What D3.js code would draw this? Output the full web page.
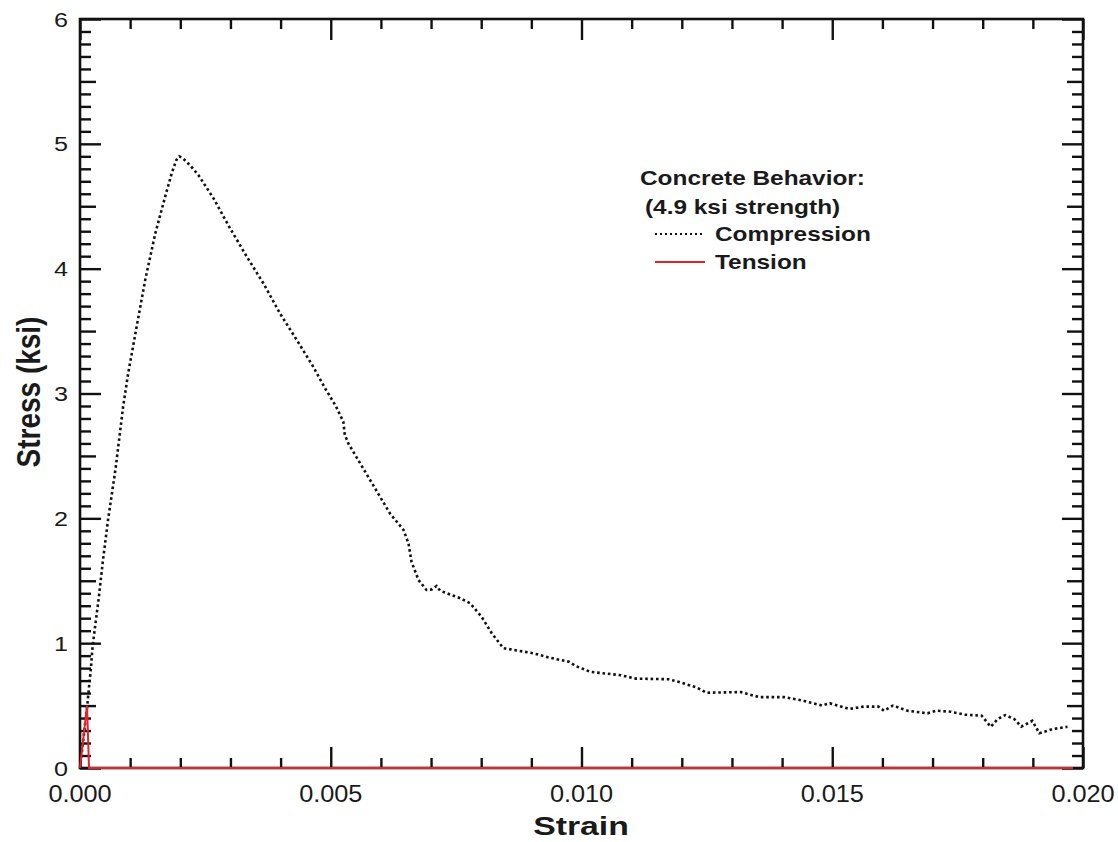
<!DOCTYPE html>
<html>
<head>
<meta charset="utf-8">
<script src="https://cdn.jsdelivr.net/npm/d3@7"></script>
<style>
  html, body { margin: 0; padding: 0; background: #fff; }
  svg { display: block; font-family: "Liberation Sans", Arial, sans-serif; }
</style>
</head>
<body>
<svg id="chart" width="1118" height="842"></svg>
<script>
// ---------------- DATA ----------------
const compStrain = [0, 0.00015, 0.00018, 0.00022, 0.00025, 0.0003, 0.00037, 0.00046, 0.00056, 0.00071,
  0.00086, 0.00096, 0.00113, 0.0013, 0.0015, 0.0017, 0.00183, 0.00192, 0.00198,
  0.00205, 0.00219, 0.00236, 0.00266, 0.00299, 0.00332, 0.00366, 0.00399, 0.00432, 0.00465,
  0.00489, 0.0051, 0.00525, 0.00528, 0.00535, 0.00578, 0.00618, 0.00645, 0.00655, 0.00661,
  0.00675, 0.00691, 0.00701, 0.00711, 0.00718, 0.00758, 0.00778, 0.00801, 0.00821, 0.00844,
  0.00904, 0.00935, 0.00975, 0.00989, 0.01018, 0.01079, 0.01108, 0.01173, 0.01195, 0.01231,
  0.01249, 0.01318, 0.01354, 0.01404, 0.0144, 0.0148, 0.01495, 0.01534, 0.01563, 0.01592,
  0.01603, 0.01621, 0.0165, 0.0169, 0.01708, 0.01736, 0.01765, 0.01798, 0.01816, 0.0183,
  0.01845, 0.01863, 0.01877, 0.01899, 0.01913, 0.01939, 0.01969];
const compStress = [0, 0.52, 0.65, 0.81, 0.97, 1.13, 1.35, 1.67, 1.99, 2.40,
  2.895, 3.16, 3.536, 3.91, 4.28, 4.58, 4.765, 4.87, 4.9,
  4.885, 4.83, 4.75, 4.565, 4.325, 4.10, 3.88, 3.64, 3.43, 3.215,
  3.04, 2.90, 2.775, 2.67, 2.60, 2.31, 2.04, 1.907, 1.80, 1.653,
  1.506, 1.426, 1.43, 1.458, 1.42, 1.36, 1.32, 1.21, 1.08, 0.96,
  0.919, 0.885, 0.851, 0.816, 0.770, 0.743, 0.716, 0.711, 0.689, 0.643,
  0.603, 0.608, 0.568, 0.568, 0.541, 0.50, 0.519, 0.473, 0.492, 0.492,
  0.459, 0.50, 0.459, 0.438, 0.459, 0.451, 0.427, 0.419, 0.33, 0.392,
  0.424, 0.392, 0.332, 0.378, 0.278, 0.311, 0.33];

const tensStrain = [0, 0.00014, 0.00018, 0.0198];
const tensStress = [0, 0.5, 0, 0];

const xTickValues = [0, 0.005, 0.010, 0.015, 0.020];
const xTickLabels = ["0.000", "0.005", "0.010", "0.015", "0.020"];
const yTickValues = [0, 1, 2, 3, 4, 5, 6];
const yTickLabels = ["0", "1", "2", "3", "4", "5", "6"];

const legendTitle = ["Concrete Behavior:", "(4.9 ksi strength)"];
const seriesNames = ["Compression", "Tension"];
const xTitle = "Strain";
const yTitle = "Stress (ksi)";

// ---------------- CHART ----------------
const svg = d3.select("#chart");
const X0 = 80, X1 = 1083, Y0 = 19, Y1 = 768;
const x = d3.scaleLinear().domain([0, 0.02]).range([X0, X1]);
const y = d3.scaleLinear().domain([0, 6]).range([Y1, Y0]);

const ink = "#111";
const red = "#e4222a";

// minor / medium tick positions
const yMinor = d3.range(0, 61).filter(i => i % 5 !== 0).map(i => i / 10);
const yMid = d3.range(0, 61).filter(i => i % 10 === 5).map(i => i / 10);
const xMinor = d3.range(0, 21).filter(i => i % 5 !== 0).map(i => i / 1000);

function ticks(axisFn, scale, values, size, tx, ty) {
  const g = svg.append("g").attr("transform", `translate(${tx},${ty})`)
    .call(axisFn(scale).tickValues(values).tickSizeInner(-size).tickSizeOuter(0).tickFormat(""));
  g.select(".domain").remove();
  g.selectAll("line").attr("stroke", ink).attr("stroke-width", 2.4);
}
// left
ticks(d3.axisLeft, y, yMinor, 11, X0, 0);
ticks(d3.axisLeft, y, yMid, 16, X0, 0);
ticks(d3.axisLeft, y, yTickValues, 21, X0, 0);
// right
ticks(d3.axisRight, y, yMinor, 11, X1, 0);
ticks(d3.axisRight, y, yMid, 16, X1, 0);
ticks(d3.axisRight, y, yTickValues, 21, X1, 0);
// bottom
ticks(d3.axisBottom, x, xMinor, 10, 0, Y1);
ticks(d3.axisBottom, x, xTickValues, 21, 0, Y1);
// top
ticks(d3.axisTop, x, xMinor, 10, 0, Y0);
ticks(d3.axisTop, x, xTickValues, 21, 0, Y0);

// frame
svg.append("rect").attr("x", X0).attr("y", Y0).attr("width", X1 - X0).attr("height", Y1 - Y0)
  .attr("fill", "none").attr("stroke", ink).attr("stroke-width", 2.6);

function stext(xp, yp, txt, size, sx, opts = {}) {
  const t = svg.append("text")
    .attr("transform", `translate(${xp},${yp}) scale(${sx},1)` + (opts.rotate ? ` rotate(${opts.rotate})` : ""))
    .attr("font-size", size)
    .attr("fill", opts.fill || "#1a1a1a")
    .attr("text-anchor", opts.anchor || "start")
    .attr("font-weight", opts.bold ? "bold" : "normal")
    .text(txt);
  if (opts.dy) t.attr("dy", opts.dy);
  return t;
}

// tick labels
yTickValues.forEach((v, i) => stext(68, y(v), yTickLabels[i], 21, 1.2, { anchor: "end", dy: "0.36em" }));
xTickValues.forEach((v, i) => stext(x(v), 802, xTickLabels[i], 23, 1.1, { anchor: "middle" }));

// axis titles
stext(581, 835, xTitle, 26, 1.3, { anchor: "middle", bold: true });
stext(40, 392, yTitle, 28, 1.2, { anchor: "middle", bold: true, rotate: -90 });

// data lines
const line = d3.line().x(d => x(d[0])).y(d => y(d[1]));
const compData = compStrain.map((s, i) => [s, compStress[i]]);
const tensData = tensStrain.map((s, i) => [s, tensStress[i]]);

svg.append("path").datum(compData).attr("d", line)
  .attr("fill", "none").attr("stroke", ink).attr("stroke-width", 2.6)
  .attr("stroke-dasharray", "2.6,2.8");
svg.append("path").datum(tensData).attr("d", line)
  .attr("fill", "none").attr("stroke", red).attr("stroke-width", 2);

// legend
stext(640, 185, legendTitle[0], 20, 1.22, { bold: true });
stext(645, 214, legendTitle[1], 20, 1.22, { bold: true });
stext(715, 241, seriesNames[0], 20, 1.22, { bold: true });
stext(715, 269, seriesNames[1], 20, 1.22, { bold: true });
svg.append("line").attr("x1", 655).attr("x2", 705).attr("y1", 234).attr("y2", 234)
  .attr("stroke", ink).attr("stroke-width", 2).attr("stroke-dasharray", "2,3");
svg.append("line").attr("x1", 655).attr("x2", 705).attr("y1", 262).attr("y2", 262)
  .attr("stroke", red).attr("stroke-width", 2);
</script>
</body>
</html>
